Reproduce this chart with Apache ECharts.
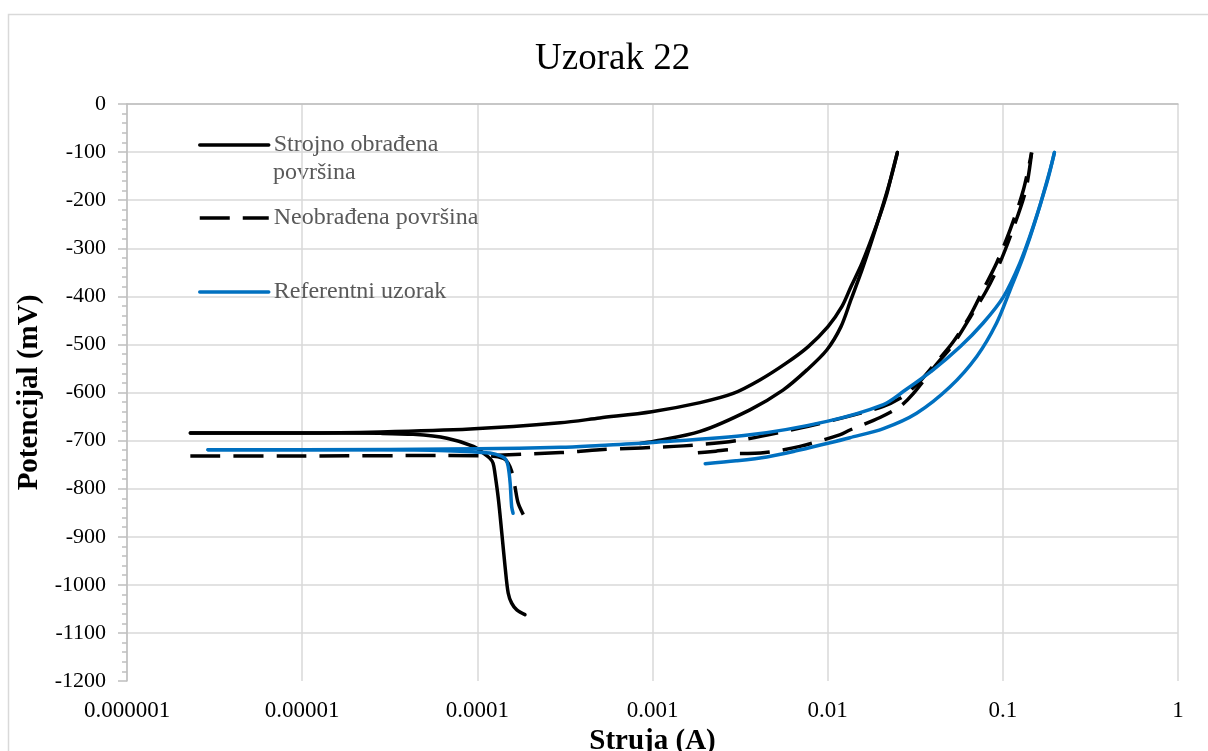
<!DOCTYPE html>
<html>
<head>
<meta charset="utf-8">
<script src="https://cdn.jsdelivr.net/npm/echarts@6/dist/echarts.min.js"></script>
<style>
  html, body { margin: 0; padding: 0; background: #ffffff; }
  #chart { width: 1208px; height: 751px; }
</style>
</head>
<body>
<div id="chart"></div>
<script>
// ---- Data (current in A, potential in mV) ----
const xTickLabels = ['0.000001', '0.00001', '0.0001', '0.001', '0.01', '0.1', '1'];
const yTickLabels = ['0', '-100', '-200', '-300', '-400', '-500', '-600', '-700', '-800', '-900', '-1000', '-1100', '-1200'];

const seriesNames = ['Strojno obrađena površina', 'Neobrađena površina', 'Referentni uzorak'];

// Strojno obrađena površina (black solid)
const strojnoCathodic = [
  [1.87e-4, -1062], [1.68e-4, -1052], [1.57e-4, -1038], [1.50e-4, -1017], [1.44e-4, -962],
  [1.38e-4, -893], [1.32e-4, -823], [1.26e-4, -768], [1.23e-4, -747], [1.18e-4, -737],
  [1.08e-4, -726], [9.5e-5, -712], [6.7e-5, -695], [4.3e-5, -687], [2.8e-5, -685],
  [1.0e-5, -684], [2.3e-6, -684]
];
const strojnoAnodic = [
  [2.3e-6, -684], [1.0e-5, -684], [2.8e-5, -682], [9.1e-5, -676], [2.97e-4, -663],
  [5.0e-4, -653], [9.9e-4, -640], [1.87e-3, -621], [2.89e-3, -602], [4.1e-3, -574],
  [5.8e-3, -539], [7.72e-3, -505], [1.004e-2, -463], [1.207e-2, -421], [1.358e-2, -380],
  [1.57e-2, -331], [1.887e-2, -255], [2.153e-2, -193], [2.344e-2, -140], [2.5e-2, -101]
];
const strojnoReverse = [
  [2.5e-2, -101], [2.313e-2, -150], [2.069e-2, -210], [1.791e-2, -283], [1.57e-2, -345],
  [1.358e-2, -407], [1.191e-2, -463], [9.91e-3, -511], [7.62e-3, -553], [5.56e-3, -595],
  [3.6e-3, -636], [1.87e-3, -681], [1.01e-3, -702], [8.5e-4, -706]
];

// Neobrađena površina (black dashed)
const neobCathodic = [
  [1.83e-4, -854], [1.71e-4, -830], [1.64e-4, -796], [1.57e-4, -764], [1.50e-4, -747],
  [1.41e-4, -737], [1.18e-4, -732], [6.7e-5, -731], [1.0e-5, -732], [2.17e-6, -732]
];
const neobAnodic = [
  [1.2e-4, -731], [3.0e-4, -725], [5.0e-4, -719], [1.5e-3, -711], [3.15e-3, -699],
  [6.95e-3, -674], [1.40e-2, -647], [2.08e-2, -629], [2.59e-2, -612], [2.95e-2, -596],
  [3.4e-2, -575], [4.0e-2, -545], [5.2e-2, -495], [6.5e-2, -440], [7.7e-2, -387],
  [9.2e-2, -331], [0.110, -262], [0.131, -179], [0.146, -101]
];
const neobReverse = [
  [0.146, -101], [0.135, -180], [0.113, -265], [0.095, -335], [0.080, -390],
  [0.066, -440], [0.052, -500], [0.041, -545], [0.0307, -603], [0.0259, -629],
  [0.0199, -652], [0.0134, -678], [0.0117, -688], [6.95e-3, -712], [4.4e-3, -725],
  [3.15e-3, -727], [2.8e-3, -719], [2.3e-3, -722], [1.64e-3, -727]
];

// Referentni uzorak (blue)
const refCathodic = [
  [1.60e-4, -851], [1.57e-4, -837], [1.54e-4, -789], [1.50e-4, -754], [1.46e-4, -740],
  [1.38e-4, -733], [1.18e-4, -726], [6.7e-5, -721], [2.8e-5, -719], [2.9e-6, -719]
];
const refAnodic = [
  [2.9e-6, -719], [1.0e-5, -719], [1.0e-4, -717], [3.0e-4, -714], [5.0e-4, -710],
  [1.0e-3, -704], [3.6e-3, -688], [9.9e-3, -660], [2.08e-2, -625], [2.7e-2, -598],
  [4.0e-2, -553], [5.7e-2, -505], [7.7e-2, -456], [0.1008, -401], [0.125, -331],
  [0.149, -255], [0.178, -165], [0.197, -101]
];
const refReverse = [
  [0.197, -101], [0.186, -137], [0.156, -234], [0.131, -317], [0.110, -387],
  [0.092, -456], [0.071, -525], [0.050, -588], [0.0322, -643], [0.0208, -675],
  [0.0134, -694], [9.9e-3, -706], [6.5e-3, -722], [4.5e-3, -734], [3.0e-3, -742],
  [2.0e-3, -748]
];

// ---- Chart ----
const FONT = '"Liberation Serif", "Times New Roman", serif';
const chart = echarts.init(document.getElementById('chart'), null, { renderer: 'canvas' });

const LW = 3.5;
const solidBlack = { color: '#000000', width: LW, type: 'solid', cap: 'round', join: 'round' };
const dashedBlack = { color: '#000000', width: LW, type: [30, 13], cap: 'butt', join: 'round' };
const solidBlue = { color: '#0070C0', width: LW, type: 'solid', cap: 'round', join: 'round' };

function mk(name, data, ls, z) {
  return {
    name: name, type: 'line', data: data, xAxisIndex: 0, yAxisIndex: 0,
    symbol: 'none', showSymbol: false, smooth: 0.3, lineStyle: ls,
    itemStyle: { color: ls.color }, z: z, animation: false
  };
}

const legendCommon = {
  orient: 'vertical', padding: 0, itemWidth: 69, itemHeight: 14, itemGap: 0,
  itemStyle: { opacity: 0 },
  lineStyle: { width: LW },
  textStyle: { fontSize: 24, color: '#595959', fontFamily: FONT },
  selectedMode: false
};

const option = {
  backgroundColor: '#ffffff',
  animation: false,
  title: {
    text: 'Uzorak 22', left: 535, top: 41, padding: 0,
    textStyle: { fontSize: 37, fontWeight: 'normal', color: '#000000', fontFamily: FONT }
  },
  legend: [
    Object.assign({}, legendCommon, { data: [seriesNames[0]], left: 198, top: 133, formatter: function () { return 'Strojno obrađena'; } }),
    Object.assign({}, legendCommon, { data: [seriesNames[1]], left: 198, top: 206 }),
    Object.assign({}, legendCommon, { data: [seriesNames[2]], left: 198, top: 280 })
  ],
  graphic: [
    { type: 'rect', silent: true, shape: { x: 8.5, y: 14.5, width: 1260, height: 800 },
      style: { fill: 'none', stroke: '#d9d9d9', lineWidth: 1.5 }, z: -10 },
    { type: 'text', left: 273, top: 161, silent: true,
      style: { text: 'površina', font: '24px ' + FONT, fill: '#595959' } }
  ],
  grid: { left: 127, right: 30, top: 104, bottom: 70, containLabel: false, outerBoundsMode: 'none' },
  xAxis: [
    {
      type: 'log', logBase: 10, min: 1e-6, max: 1, position: 'bottom',
      axisLine: { show: false }, axisTick: { show: false },
      axisLabel: {
        fontSize: 23, color: '#000000', fontFamily: FONT, margin: 18,
        formatter: function (v) { return xTickLabels[Math.round(Math.log10(v)) + 6]; }
      },
      splitLine: { show: true, lineStyle: { color: '#d9d9d9', width: 1.5 } },
      name: 'Struja (A)', nameLocation: 'middle', nameGap: 36,
      nameTextStyle: { fontSize: 29, fontWeight: 'bold', color: '#000000', fontFamily: FONT }
    },
    {
      type: 'log', logBase: 10, min: 1e-6, max: 1, position: 'top',
      axisLine: { show: true, lineStyle: { color: '#bfbfbf', width: 1.5 } },
      axisTick: { show: false }, axisLabel: { show: false }, splitLine: { show: false }
    }
  ],
  yAxis: {
    type: 'value', min: -1200, max: 0, interval: 100,
    axisLine: { show: true, lineStyle: { color: '#bfbfbf', width: 1.5 } },
    axisTick: { show: true, length: 9, lineStyle: { color: '#bfbfbf', width: 1.5 } },
    minorTick: { show: true, splitNumber: 5, length: 5, lineStyle: { color: '#bfbfbf', width: 1.5 } },
    axisLabel: {
      fontSize: 22, color: '#000000', fontFamily: FONT, margin: 21,
      formatter: function (v) { return yTickLabels[Math.round(-v / 100)]; }
    },
    splitLine: { show: true, showMinLine: false, lineStyle: { color: '#d9d9d9', width: 1.5 } },
    name: 'Potencijal (mV)', nameLocation: 'middle', nameGap: 82, nameRotate: 90,
    nameTextStyle: { fontSize: 29, fontWeight: 'bold', color: '#000000', fontFamily: FONT }
  },
  series: [
    mk(seriesNames[0], strojnoCathodic, solidBlack, 2),
    mk(seriesNames[0], strojnoAnodic, solidBlack, 2),
    mk(seriesNames[0], strojnoReverse, solidBlack, 2),
    mk(seriesNames[1], neobCathodic, dashedBlack, 3),
    mk(seriesNames[1], neobAnodic, dashedBlack, 3),
    mk(seriesNames[1], neobReverse, dashedBlack, 3),
    mk(seriesNames[2], refCathodic, solidBlue, 4),
    mk(seriesNames[2], refAnodic, solidBlue, 4),
    mk(seriesNames[2], refReverse, solidBlue, 4)
  ]
};
chart.setOption(option);
</script>
</body>
</html>
